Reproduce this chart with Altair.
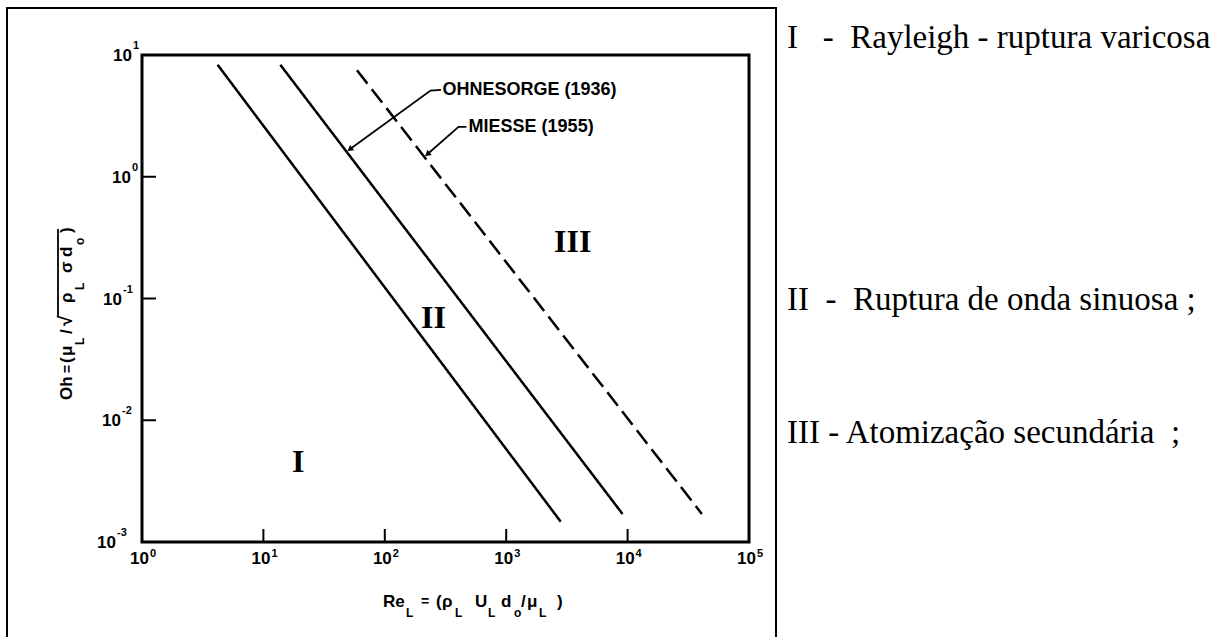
import altair as alt
import pandas as pd

# ---------------- data ----------------
re_line1 = [4.2, 2810]
oh_line1 = [8.3, 0.00147]
re_ohnesorge = [13.8, 9080]
oh_ohnesorge = [8.3, 0.0017]
re_miesse = [59, 40900]
oh_miesse = [7.5, 0.0017]

x_ticks = [1, 10, 100, 1000, 10000, 100000]
x_tick_exp = ["0", "1", "2", "3", "4", "5"]
y_ticks = [0.001, 0.01, 0.1, 1, 10]
y_tick_exp = ["-3", "-2", "-1", "0", "1"]

region_labels = ["I", "II", "III"]
region_re = [19.4, 252, 3530]
region_oh = [0.00453, 0.0698, 0.293]

ann_texts = ["OHNESORGE (1936)", "MIESSE (1955)"]
ann_re = [299, 490]
ann_oh = [5.17, 2.57]
leader_ohn_re = [51.5, 238, 290]
leader_ohn_oh = [1.68, 5.1, 5.17]
leader_mie_re = [224, 405, 470]
leader_mie_oh = [1.53, 2.57, 2.57]

legend_lines = [
    "I\u00a0\u00a0\u00a0-\u00a0\u00a0Rayleigh - ruptura varicosa",
    "II\u00a0\u00a0-\u00a0\u00a0Ruptura de onda sinuosa ;",
    "III - Atomização secundária\u00a0\u00a0;",
]

x_title_parts = ["Re", "L", "=", "(", "ρ", "L", "U", "L", "d", "o", "/", "μ", "L", ")"]
y_title_parts = ["Oh", "=", "(", "μ", "L", "/", "√", "ρ", "L", "σ", "d", "o", ")"]

# ---------------- layout (pixels) ----------------
OX, OY = 142, 55          # plot-area origin in the page
W, H = 607, 487
SANS = "Liberation Sans"
SERIF = "Liberation Serif"

x_title_pos = [(383, 607, 17), (406, 617, 12), (421, 606, 14), (436, 607, 17), (442, 607, 17),
               (455, 617, 12), (475, 607, 17), (488, 617, 12), (501, 607, 17), (514, 617, 12),
               (521, 607, 17), (527, 607, 17), (539, 617, 12), (557, 607, 17)]
y_title_pos = [(72, 400, 17), (72, 373, 14), (72, 363, 17), (72, 356, 17), (84, 345, 12),
               (72, 334, 17), (72, 326, 19), (72, 303, 17), (84, 290, 12), (72, 273, 17),
               (72, 257, 17), (84, 245, 12), (72, 233, 17)]
y_label_ten_right = [-26, -21, -20, -11, -10]   # right edge of the "10" of each y label
legend_pos = [(787, 38), (787, 300), (787, 433)]

xs = alt.Scale(type="log", domain=[1, 1e5], nice=False)
ys = alt.Scale(type="log", domain=[1e-3, 10], nice=False)


def X(f="re"):
    return alt.X(f + ":Q", scale=xs, axis=None)


def Y(f="oh"):
    return alt.Y(f + ":Q", scale=ys, axis=None)


# ---------------- lines ----------------
rows = []
for name, rx, oy in [("A", re_line1, oh_line1), ("Ohnesorge", re_ohnesorge, oh_ohnesorge),
                     ("Miesse", re_miesse, oh_miesse)]:
    for i, (a, b) in enumerate(zip(rx, oy)):
        rows.append({"re": a, "oh": b, "series": name, "ord": i})
lines_df = pd.DataFrame(rows)

lines = alt.Chart(lines_df).mark_line(color="black", strokeWidth=2.5).encode(
    x=X(), y=Y(),
    detail="series:N",
    strokeDash=alt.StrokeDash("series:N",
                              scale=alt.Scale(domain=["A", "Ohnesorge", "Miesse"],
                                              range=[[1, 0], [1, 0], [17, 7]]),
                              legend=None),
    order="ord:Q",
)

# ---------------- inner ticks and tick labels ----------------
xt = alt.Chart(pd.DataFrame({"re": x_ticks[1:-1]})).mark_rule(color="black", strokeWidth=2).encode(
    x=X(), y=alt.value(H), y2=alt.value(H - 13))
yt = alt.Chart(pd.DataFrame({"oh": y_ticks[1:-1]})).mark_rule(color="black", strokeWidth=2).encode(
    y=Y(), x=alt.value(0), x2=alt.value(14))

xlab_df = pd.DataFrame({"re": x_ticks, "ten": ["10"] * len(x_ticks), "e": x_tick_exp})
xl_ten = alt.Chart(xlab_df).mark_text(
    font=SANS, fontSize=17, fontWeight="bold", color="black", align="right", baseline="alphabetic",
    dx=7).encode(x=X(), y=alt.value(H + 22), text="ten:N")
xl_exp = alt.Chart(xlab_df).mark_text(
    font=SANS, fontSize=11, fontWeight="bold", color="black", align="left", baseline="alphabetic",
    dx=8).encode(x=X(), y=alt.value(H + 15), text="e:N")

ylab_df = pd.DataFrame({"oh": y_ticks, "ten": ["10"] * len(y_ticks), "e": y_tick_exp,
                        "px": y_label_ten_right})
yl_ten = alt.Chart(ylab_df).mark_text(
    font=SANS, fontSize=17, fontWeight="bold", color="black", align="right", baseline="alphabetic",
    dy=0).encode(y=Y(), x=alt.X("px:Q", scale=None, axis=None), text="ten:N")
ylab_df2 = ylab_df.assign(px2=[p + 1 for p in y_label_ten_right])
yl_exp = alt.Chart(ylab_df2).mark_text(
    font=SANS, fontSize=11, fontWeight="bold", color="black", align="left", baseline="alphabetic",
    dy=-6).encode(y=Y(), x=alt.X("px2:Q", scale=None, axis=None), text="e:N")
# shift the "10" baselines so that the label is centred on the tick
yl_ten = yl_ten.mark_text(font=SANS, fontSize=17, fontWeight="bold", color="black", align="right",
                          baseline="alphabetic", dy=6)

# ---------------- region numerals ----------------
regions = alt.Chart(pd.DataFrame({"re": region_re, "oh": region_oh, "t": region_labels})).mark_text(
    font=SERIF, fontSize=32, fontWeight="bold", color="black", align="center", baseline="middle").encode(
    x=X(), y=Y(), text="t:N")

# ---------------- annotations ----------------
ann = alt.Chart(pd.DataFrame({"re": ann_re, "oh": ann_oh, "t": ann_texts})).mark_text(
    font=SANS, fontSize=18, fontWeight="bold", color="black", align="left", baseline="middle").encode(
    x=X(), y=Y(), text="t:N")

lead_rows = []
for name, rx, oy in [("ohn", leader_ohn_re, leader_ohn_oh), ("mie", leader_mie_re, leader_mie_oh)]:
    for i, (a, b) in enumerate(zip(rx, oy)):
        lead_rows.append({"re": a, "oh": b, "g": name, "ord": i})
leaders = alt.Chart(pd.DataFrame(lead_rows)).mark_line(color="black", strokeWidth=1.8).encode(
    x=X(), y=Y(), detail="g:N", order="ord:Q")

arrow1 = alt.Chart(pd.DataFrame({"re": [leader_ohn_re[0]], "oh": [leader_ohn_oh[0]]})).mark_point(
    shape="triangle-up", filled=True, color="black", size=45, angle=233, opacity=1).encode(x=X(), y=Y())
arrow2 = alt.Chart(pd.DataFrame({"re": [leader_mie_re[0]], "oh": [leader_mie_oh[0]]})).mark_point(
    shape="triangle-up", filled=True, color="black", size=45, angle=230, opacity=1).encode(x=X(), y=Y())

# ---------------- axis titles built from pieces (sub-scripts) ----------------
xt_df = pd.DataFrame({"t": x_title_parts,
                      "px": [p[0] - OX for p in x_title_pos],
                      "py": [p[1] - OY for p in x_title_pos],
                      "fs": [p[2] for p in x_title_pos]})
x_title = alt.Chart(xt_df).mark_text(font=SANS, fontWeight="bold", color="black", align="left",
                                     baseline="alphabetic").encode(
    x=alt.X("px:Q", scale=None, axis=None), y=alt.Y("py:Q", scale=None, axis=None),
    size=alt.Size("fs:Q", scale=None, legend=None), text="t:N")

yt_df = pd.DataFrame({"t": y_title_parts,
                      "px": [p[0] - OX for p in y_title_pos],
                      "py": [p[1] - OY for p in y_title_pos],
                      "fs": [p[2] for p in y_title_pos]})
y_title = alt.Chart(yt_df).mark_text(font=SANS, fontWeight="bold", color="black", align="left",
                                     baseline="alphabetic", angle=270).encode(
    x=alt.X("px:Q", scale=None, axis=None), y=alt.Y("py:Q", scale=None, axis=None),
    size=alt.Size("fs:Q", scale=None, legend=None), text="t:N")

sqrt_bar = alt.Chart(pd.DataFrame({"k": [0]})).mark_rule(color="black", strokeWidth=1.8).encode(
    x=alt.value(58 - OX), y=alt.value(316 - OY), y2=alt.value(229 - OY))

# ---------------- outer frame and right-hand legend ----------------
frame = alt.Chart(pd.DataFrame({"k": [0]})).mark_rect(fillOpacity=0, stroke="black", strokeWidth=2).encode(
    x=alt.value(7 - OX), x2=alt.value(776 - OX), y=alt.value(8 - OY), y2=alt.value(700))

leg_df = pd.DataFrame({"t": legend_lines,
                       "px": [p[0] - OX for p in legend_pos],
                       "py": [p[1] - OY for p in legend_pos]})
legend_text = alt.Chart(leg_df).mark_text(font=SERIF, fontSize=33, color="black", align="left",
                                          baseline="middle").encode(
    x=alt.X("px:Q", scale=None, axis=None), y=alt.Y("py:Q", scale=None, axis=None), text="t:N")

chart = alt.layer(
    frame, lines, xt, yt, xl_ten, xl_exp, yl_ten, yl_exp, regions, leaders, arrow1, arrow2, ann,
    x_title, y_title, sqrt_bar, legend_text
).properties(
    width=W, height=H,
    autosize=alt.AutoSizeParams(type="none"),
    padding={"left": OX, "top": OY, "right": 1219 - OX - W, "bottom": 637 - OY - H},
    background="white",
).configure_view(stroke="black", strokeWidth=3)

chart.save("out.html", embed_options={"renderer": "svg", "actions": False})
